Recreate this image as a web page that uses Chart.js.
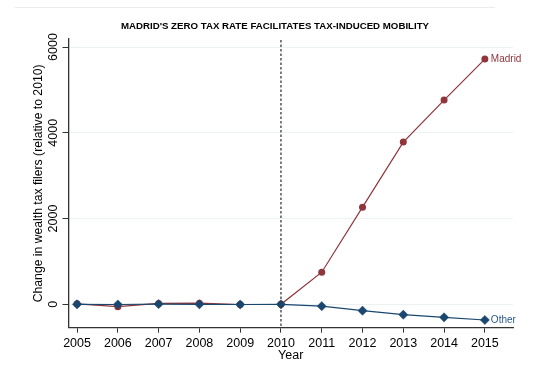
<!DOCTYPE html>
<html>
<head>
<meta charset="utf-8">
<script src="https://cdn.jsdelivr.net/npm/chart.js@4"></script>
<style>
	html, body { margin: 0; padding: 0; background: #fff; }
	#wrap { width: 557px; height: 381px; }
</style>
</head>
<body>
<div id="wrap"><canvas id="mobilityChart" width="557" height="381"></canvas></div>
<script>
// Data
const years = [2005, 2006, 2007, 2008, 2009, 2010, 2011, 2012, 2013, 2014, 2015];
const madridValues = [10, -55, 20, 25, -5, 0, 748, 2265, 3783, 4762, 5718];
const otherValues = [0, -5, 5, 0, -5, 0, -45, -150, -243, -305, -366];
const yTicks = [0, 2000, 4000, 6000];
const reformYear = 2010;

const chartTitle = "MADRID'S ZERO TAX RATE FACILITATES TAX-INDUCED MOBILITY";
const yTitle = 'Change in wealth tax filers (relative to 2010)';
const xTitle = 'Year';

const maroon = '#90353b';
const navy = '#1a476f';
const fontFamily = '"Liberation Sans", Arial, sans-serif';

function toPoints(values) {
	return years.map((year, i) => ({ x: year, y: values[i] }));
}

// Title, page rule, the 2010 reference line and series end labels
const extrasPlugin = {
	id: 'extras',
	beforeDraw(chart) {
		const ctx = chart.ctx;
		ctx.save();
		ctx.strokeStyle = '#ececec';
		ctx.lineWidth = 1;
		ctx.beginPath();
		ctx.moveTo(15, 7.5);
		ctx.lineTo(495, 7.5);
		ctx.stroke();
		ctx.fillStyle = '#000';
		ctx.font = 'bold 9.7px ' + fontFamily;
		ctx.textAlign = 'center';
		ctx.textBaseline = 'middle';
		ctx.fillText(chartTitle, 275, 26);
		ctx.restore();
	},
	afterDatasetsDraw(chart) {
		const ctx = chart.ctx;
		const xScale = chart.scales.x;
		const area = chart.chartArea;
		const xPos = xScale.getPixelForValue(reformYear);
		ctx.save();
		ctx.strokeStyle = '#3a3a3a';
		ctx.lineWidth = 1.3;
		ctx.setLineDash([2.5, 2]);
		ctx.beginPath();
		ctx.moveTo(xPos, area.top + 1);
		ctx.lineTo(xPos, area.bottom);
		ctx.stroke();
		ctx.setLineDash([]);

		ctx.font = '10px ' + fontFamily;
		ctx.textAlign = 'left';
		ctx.textBaseline = 'middle';
		chart.data.datasets.forEach((ds, i) => {
			const meta = chart.getDatasetMeta(i);
			const last = meta.data[meta.data.length - 1];
			ctx.fillStyle = ds.labelColor;
			ctx.fillText(ds.label, last.x + 6, last.y + 0.5);
		});
		ctx.restore();
	}
};

new Chart(document.getElementById('mobilityChart').getContext('2d'), {
	type: 'line',
	data: {
		datasets: [
			{
				label: 'Madrid',
				data: toPoints(madridValues),
				borderColor: maroon,
				backgroundColor: maroon,
				labelColor: maroon,
				borderWidth: 1.2,
				pointStyle: 'circle',
				pointRadius: 3.5,
				pointBorderWidth: 0,
				order: 1
			},
			{
				label: 'Other',
				data: toPoints(otherValues),
				borderColor: navy,
				backgroundColor: navy,
				labelColor: '#2a5a8f',
				borderWidth: 1.2,
				pointStyle: 'rectRot',
				pointRadius: 4.6,
				pointBorderWidth: 0.5,
				order: 0
			}
		]
	},
	options: {
		responsive: false,
		animation: false,
		layout: {
			padding: { top: 39, right: 44, bottom: 0, left: 0 }
		},
		plugins: {
			legend: { display: false },
			title: { display: false },
			tooltip: { enabled: false }
		},
		scales: {
			x: {
				type: 'linear',
				min: 2004.79,
				max: 2015.69,
				afterBuildTicks: scale => {
					scale.ticks = years.map(v => ({ value: v }));
				},
				afterFit: scale => {
					scale.height = 53.3;
				},
				grid: {
					drawOnChartArea: false,
					drawTicks: true,
					tickLength: 5,
					tickColor: '#333',
					tickWidth: 1
				},
				border: { color: '#333', width: 1.3 },
				ticks: {
					color: '#000',
					padding: 3,
					maxRotation: 0,
					autoSkip: false,
					font: { family: fontFamily, size: 12.5 },
					callback: v => String(v)
				},
				title: {
					display: true,
					text: xTitle,
					color: '#000',
					padding: { top: 0, bottom: 18 },
					font: { family: fontFamily, size: 12.5 }
				}
			},
			y: {
				type: 'linear',
				min: -546,
				max: 6187,
				afterBuildTicks: scale => {
					scale.ticks = yTicks.map(v => ({ value: v }));
				},
				afterFit: scale => {
					scale.width = 68.5;
				},
				grid: {
					color: '#eaf2f3',
					lineWidth: 1,
					drawTicks: true,
					tickLength: 6,
					tickColor: '#333',
					tickWidth: 1
				},
				border: { color: '#333', width: 1.3 },
				ticks: {
					color: '#000',
					minRotation: 90,
					maxRotation: 90,
					crossAlign: 'center',
					padding: -5,
					font: { family: fontFamily, size: 12.5 },
					callback: v => String(v)
				},
				title: {
					display: true,
					text: yTitle,
					color: '#000',
					padding: { top: 31, bottom: 0 },
					font: { family: fontFamily, size: 12.2 }
				}
			}
		}
	},
	plugins: [extrasPlugin]
});
</script>
</body>
</html>
